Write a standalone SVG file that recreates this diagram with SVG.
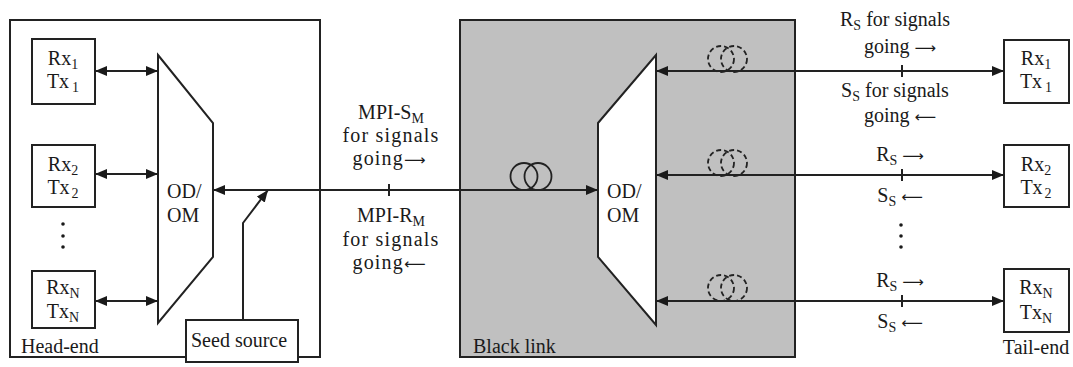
<svg xmlns="http://www.w3.org/2000/svg" width="1073" height="367" viewBox="0 0 1073 367">
<defs>
<style>
text{font-family:"Liberation Serif","Times New Roman","DejaVu Serif",serif;font-size:20px;fill:#1a1a1a}
.sub{font-size:14px}
.arr{font-family:"DejaVu Sans",sans-serif;font-size:15px}
.box{fill:#fff;stroke:#222;stroke-width:2}
.trap{fill:#fff;stroke:#222;stroke-width:2;stroke-linejoin:miter}
.ln{fill:none;stroke:#222;stroke-width:2}
.tick{stroke:#222;stroke-width:2}
.coil{fill:none;stroke:#222;stroke-width:1.8}
.dcoil{fill:none;stroke:#222;stroke-width:1.8;stroke-dasharray:5 3}
</style>
<marker id="ah" viewBox="0 0 12 10" refX="12" refY="5" markerWidth="12" markerHeight="10" markerUnits="userSpaceOnUse" orient="auto-start-reverse">
<path d="M0,0 L12,5 L0,10 z" fill="#1a1a1a"/>
</marker>
</defs>

<g font-family="Liberation Serif, Times New Roman, serif">
<g id="head-end">
<rect x="10" y="20" width="310" height="337" fill="#fff" stroke="#222" stroke-width="2"/>
<text x="21" y="353">Head-end</text>
</g>

<g id="black-link">
<rect x="460" y="20" width="335" height="337" fill="#c0c0c0" stroke="#222" stroke-width="2"/>
<text x="473" y="353">Black link</text>
</g>

<g id="he-rx1">
<rect class="box" x="32" y="39" width="63" height="65"/>
<text x="63" y="65" text-anchor="middle">Rx<tspan class="sub" dy="4">1</tspan></text>
<text x="63" y="88" text-anchor="middle">Tx<tspan class="sub" dx="3" dy="4">1</tspan></text>
</g>
<g id="he-rx2">
<rect class="box" x="32" y="145" width="63" height="62"/>
<text x="63" y="171" text-anchor="middle">Rx<tspan class="sub" dy="4">2</tspan></text>
<text x="63" y="194" text-anchor="middle">Tx<tspan class="sub" dx="2" dy="4">2</tspan></text>
</g>
<g id="he-dots">
<circle cx="63" cy="224" r="1.8" fill="#1a1a1a"/>
<circle cx="63" cy="236" r="1.8" fill="#1a1a1a"/>
<circle cx="63" cy="247" r="1.8" fill="#1a1a1a"/>
</g>
<g id="he-rxn">
<rect class="box" x="32" y="271" width="63" height="57"/>
<text x="63" y="294" text-anchor="middle">Rx<tspan class="sub" dy="4">N</tspan></text>
<text x="63" y="318" text-anchor="middle">Tx<tspan class="sub" dy="4">N</tspan></text>
</g>

<g id="he-odom">
<polygon class="trap" points="158,55 213,123 213,257 158,323"/>
<text x="167" y="198">OD/</text>
<text x="167" y="222">OM</text>
</g>

<g id="seed-source">
<rect class="box" x="186" y="320" width="112" height="42"/>
<text x="191" y="347">Seed source</text>
</g>

<g id="bl-odom">
<polygon class="trap" points="598,123 656,55 656,325 598,257"/>
<text x="607" y="198">OD/</text>
<text x="607" y="222">OM</text>
</g>

<g id="fiber-coil">
<circle class="coil" cx="524" cy="176.5" r="13.5"/>
<circle class="coil" cx="538" cy="176.5" r="13.5"/>
</g>

<g id="dashed-coils">
<ellipse class="dcoil" cx="721" cy="59" rx="13" ry="13"/>
<ellipse class="dcoil" cx="734" cy="59" rx="13" ry="13"/>
<ellipse class="dcoil" cx="721" cy="163" rx="13" ry="13"/>
<ellipse class="dcoil" cx="734" cy="163" rx="13" ry="13"/>
<ellipse class="dcoil" cx="721" cy="288" rx="13" ry="13"/>
<ellipse class="dcoil" cx="734" cy="288" rx="13" ry="13"/>
</g>

<g id="te-rx1">
<rect class="box" x="1004" y="40" width="65" height="63"/>
<text x="1036" y="65" text-anchor="middle">Rx<tspan class="sub" dy="4">1</tspan></text>
<text x="1036" y="88" text-anchor="middle">Tx<tspan class="sub" dx="3" dy="4">1</tspan></text>
</g>
<g id="te-rx2">
<rect class="box" x="1004" y="145" width="65" height="62"/>
<text x="1036" y="171" text-anchor="middle">Rx<tspan class="sub" dy="4">2</tspan></text>
<text x="1036" y="194" text-anchor="middle">Tx<tspan class="sub" dx="2" dy="4">2</tspan></text>
</g>
<g id="te-rxn">
<rect class="box" x="1004" y="269" width="65" height="63"/>
<text x="1036" y="294" text-anchor="middle">Rx<tspan class="sub" dy="4">N</tspan></text>
<text x="1036" y="319" text-anchor="middle">Tx<tspan class="sub" dy="4">N</tspan></text>
</g>
<g id="tail-end">
<text x="1036" y="354" text-anchor="middle">Tail-end</text>
</g>
<g id="te-dots">
<circle cx="901" cy="225" r="1.8" fill="#1a1a1a"/>
<circle cx="901" cy="236" r="1.8" fill="#1a1a1a"/>
<circle cx="901" cy="247" r="1.8" fill="#1a1a1a"/>
</g>

<g id="connectors">
<line class="ln" x1="95" y1="71" x2="158" y2="71" marker-start="url(#ah)" marker-end="url(#ah)"/>
<line class="ln" x1="95" y1="174" x2="158" y2="174" marker-start="url(#ah)" marker-end="url(#ah)"/>
<line class="ln" x1="95" y1="301" x2="158" y2="301" marker-start="url(#ah)" marker-end="url(#ah)"/>
<line class="ln" x1="213" y1="190" x2="598" y2="190" marker-start="url(#ah)" marker-end="url(#ah)"/>
<polyline class="ln" points="243,320 243,223 268,190" marker-end="url(#ah)"/>
<line class="ln" x1="656" y1="71" x2="1004" y2="71" marker-start="url(#ah)" marker-end="url(#ah)"/>
<line class="ln" x1="656" y1="175" x2="1004" y2="175" marker-start="url(#ah)" marker-end="url(#ah)"/>
<line class="ln" x1="656" y1="301" x2="1004" y2="301" marker-start="url(#ah)" marker-end="url(#ah)"/>
<line class="tick" x1="389" y1="184" x2="389" y2="196"/>
<line class="tick" x1="902" y1="65" x2="902" y2="77"/>
<line class="tick" x1="902" y1="169" x2="902" y2="181"/>
<line class="tick" x1="902" y1="295" x2="902" y2="307"/>
</g>

<g id="labels">
<text x="391" y="119" text-anchor="middle">MPI-S<tspan class="sub" dy="4">M</tspan></text>
<text x="391" y="142" text-anchor="middle" letter-spacing="1.2">for signals</text>
<text x="389" y="165" text-anchor="middle"><tspan letter-spacing="1.2">going</tspan><tspan class="arr">⟶</tspan></text>
<text x="391" y="222" text-anchor="middle">MPI-R<tspan class="sub" dy="4">M</tspan></text>
<text x="391" y="246" text-anchor="middle" letter-spacing="1.2">for signals</text>
<text x="389" y="269" text-anchor="middle"><tspan letter-spacing="1.2">going</tspan><tspan class="arr">⟵</tspan></text>

<text x="895" y="26" text-anchor="middle">R<tspan class="sub" dy="4">S</tspan><tspan dy="-4"> for signals</tspan></text>
<text x="900" y="53" text-anchor="middle">going <tspan class="arr">⟶</tspan></text>
<text x="895" y="97" text-anchor="middle">S<tspan class="sub" dy="4">S</tspan><tspan dy="-4"> for signals</tspan></text>
<text x="900" y="122" text-anchor="middle">going <tspan class="arr">⟵</tspan></text>
<text x="900" y="161" text-anchor="middle">R<tspan class="sub" dy="4">S</tspan><tspan dy="-4"> </tspan><tspan class="arr">⟶</tspan></text>
<text x="900" y="202" text-anchor="middle">S<tspan class="sub" dy="4">S</tspan><tspan dy="-4"> </tspan><tspan class="arr">⟵</tspan></text>
<text x="900" y="287" text-anchor="middle">R<tspan class="sub" dy="4">S</tspan><tspan dy="-4"> </tspan><tspan class="arr">⟶</tspan></text>
<text x="900" y="328" text-anchor="middle">S<tspan class="sub" dy="4">S</tspan><tspan dy="-4"> </tspan><tspan class="arr">⟵</tspan></text>
</g>
</g>
</svg>
